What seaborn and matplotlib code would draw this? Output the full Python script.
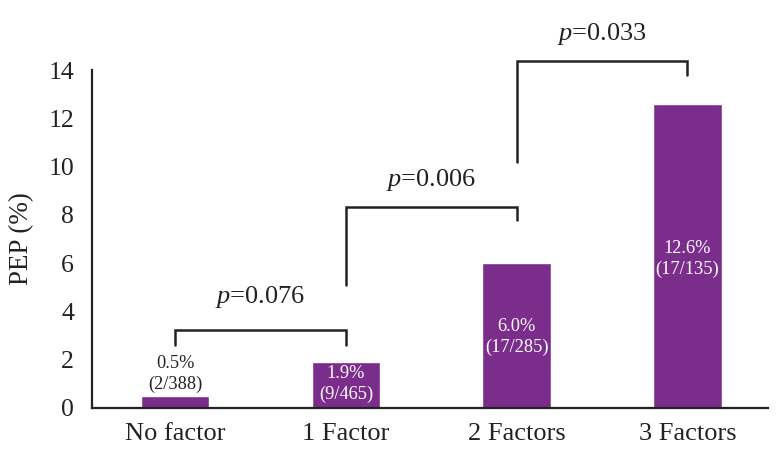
import matplotlib
matplotlib.use("Agg")
import matplotlib.pyplot as plt
import seaborn as sns
import pandas as pd

categories = ["No factor", "1 Factor", "2 Factors", "3 Factors"]
pep_values = [0.5, 1.9, 6.0, 12.6]
bar_labels = ["0.5%\n(2/388)", "1.9%\n(9/465)", "6.0%\n(17/285)", "12.6%\n(17/135)"]
comparisons = [(0, 1, "0.076"), (1, 2, "0.006"), (2, 3, "0.033")]
yticks = [0, 2, 4, 6, 8, 10, 12, 14]

sns.set_theme(style="white")
plt.rcParams["font.family"] = ["Liberation Serif", "DejaVu Serif"]
plt.rcParams["mathtext.fontset"] = "custom"
plt.rcParams["mathtext.rm"] = "Liberation Serif"
plt.rcParams["mathtext.it"] = "Liberation Serif:italic"

df = pd.DataFrame({"cat": categories, "val": pep_values})
purple = "#7B2D8C"
ink = "#222222"

fig = plt.figure(figsize=(7.81, 4.72), dpi=100)
ax = fig.add_axes([0.118, 0.1356, 0.865, 0.716])
sns.barplot(data=df, x="cat", y="val", order=categories, color=purple,
            width=0.40, saturation=1, ax=ax)

ax.set_ylim(0, 14)
ax.set_xlim(-0.485, 3.47)
ax.set_yticks(yticks)
ax.tick_params(axis="y", labelsize=18.5, length=10, width=1.6, direction="out",
               color=ink, labelcolor=ink, pad=3)
ax.tick_params(axis="x", labelsize=19, length=0, pad=11, labelcolor=ink)
ax.set_xlabel("")
ax.set_ylabel("PEP (%)", fontsize=19.5, labelpad=10, color=ink)
for s in ["top", "right"]:
    ax.spines[s].set_visible(False)
for s in ["left", "bottom"]:
    ax.spines[s].set_linewidth(1.6)
    ax.spines[s].set_color(ink)

# bar labels
for i, (v, lab) in enumerate(zip(pep_values, bar_labels)):
    if v < 1:
        ax.text(i, v + 0.12, lab, ha="center", va="bottom", fontsize=13.2,
                color=ink, linespacing=1.3)
    elif v < 3:
        ax.text(i, v - 0.1, lab, ha="center", va="top", fontsize=13.2,
                color="white", linespacing=1.3)
    else:
        ax.text(i, v * 0.49, lab, ha="center", va="center", fontsize=13.2,
                color="white", linespacing=1.3)

# brackets
bracket_specs = {
    0: (3.23, 2.6, 2.6, 4.6),
    1: (8.33, 5.1, 7.8, 9.45),
    2: (14.37, 10.2, 13.8, 15.5),
}
for k, (a, b, p) in enumerate(comparisons):
    yh, yl, yr, yt = bracket_specs[k]
    ax.plot([a, a, b, b], [yl, yh, yh, yr], color=ink, lw=1.8,
            clip_on=False, solid_joinstyle="miter")
    ax.text((a + b) / 2, yt, r"$\mathit{p}$=" + p, ha="center", va="center",
            fontsize=19, color=ink, clip_on=False)

fig.savefig("out.png", dpi=100)
